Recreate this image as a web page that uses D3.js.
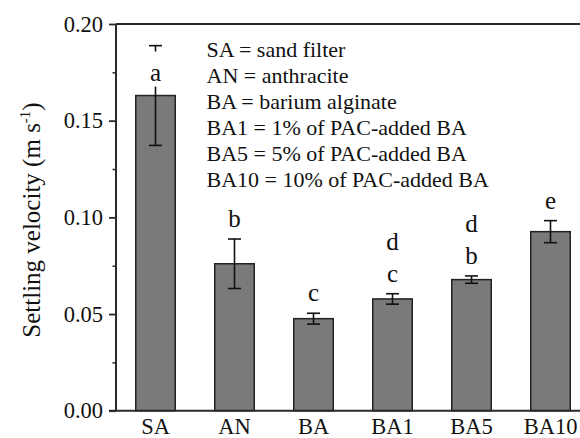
<!DOCTYPE html>
<html><head><meta charset="utf-8">
<script src="https://cdn.jsdelivr.net/npm/d3@7"></script>
<style>body{margin:0;background:#fff}svg{display:block}</style>
</head><body><svg id="c" width="580" height="438"></svg>
<script>
const categories = ["SA","AN","BA","BA1","BA5","BA10"];
const means = [0.163, 0.076, 0.0476, 0.0578, 0.0678, 0.0926];
const errors = [0.0258, 0.0128, 0.0028, 0.0027, 0.0019, 0.0057];
const letters = [["a"],["b"],["c"],["c","d"],["b","d"],["e"]];
const yTicks = [0.00, 0.05, 0.10, 0.15, 0.20];
const yMinorTicks = [0.025, 0.075, 0.125, 0.175];
const legendLines = ["SA = sand filter","AN = anthracite","BA = barium alginate","BA1 = 1% of PAC-added BA","BA5 = 5% of PAC-added BA","BA10 = 10% of PAC-added BA"];
const yTitle = "Settling velocity (m s";

const FONT = '"Liberation Serif"';
const svg = d3.select("#c");
const mL = 116, mR = 590, mT = 24, mB = 410.7;
const x = d3.scaleBand().domain(categories).range([mL, mR]).paddingInner(0.5).paddingOuter(0.25);
const y = d3.scaleLinear().domain([0, 0.20]).range([mB, mT]);
const axisColor = "#2a2a2a";

// bars
svg.append("g").selectAll("rect").data(categories).join("rect")
  .attr("x", d => x(d)).attr("width", x.bandwidth())
  .attr("y", (d,i) => y(means[i])).attr("height", (d,i) => mB - y(means[i]))
  .attr("fill", "#7a7a7a").attr("stroke", "#222").attr("stroke-width", 1.5);

// error bars
const eb = svg.append("g").attr("stroke", "#111").attr("stroke-width", 1.6);
categories.forEach((c,i) => {
  const cx = x(c) + x.bandwidth()/2;
  const y1 = y(means[i] + errors[i]), y2 = y(means[i] - errors[i]);
  eb.append("line").attr("x1", cx).attr("x2", cx).attr("y1", y1).attr("y2", y2);
  eb.append("line").attr("x1", cx-6.5).attr("x2", cx+6.5).attr("y1", y1).attr("y2", y1);
  eb.append("line").attr("x1", cx-6.5).attr("x2", cx+6.5).attr("y1", y2).attr("y2", y2);
});

// significance letters
const lg = svg.append("g");
categories.forEach((c,i) => {
  const cx = x(c) + x.bandwidth()/2;
  const base = i === 0 ? y(means[i]) - 15 : y(means[i] + errors[i]) - 12;
  letters[i].forEach((L,k) => {
    const by = base - k*32;
    lg.append("rect").attr("x", cx-8).attr("y", by-29).attr("width", 16).attr("height", 35).attr("fill", "#fff");
    lg.append("text").attr("x", cx).attr("y", by).attr("text-anchor","middle")
      .style("font-family", FONT).style("font-size", "25px").attr("fill", "#111").text(L);
  });
});

// y axis
const yAxis = svg.append("g").attr("transform", `translate(${mL},0)`)
  .call(d3.axisLeft(y).tickValues(yTicks).tickFormat(d3.format(".2f")).tickSize(7).tickPadding(6));
yAxis.select(".domain").remove();
yAxis.selectAll(".tick line").attr("stroke", axisColor).attr("stroke-width", 1.8);
yAxis.selectAll(".tick text").style("font-family", FONT).style("font-size", "22.5px").attr("fill","#111");
svg.append("g").attr("transform", `translate(${mL},0)`)
  .call(d3.axisLeft(y).tickValues(yMinorTicks).tickFormat("").tickSize(3.5))
  .call(g => g.select(".domain").remove())
  .selectAll(".tick line").attr("stroke", axisColor).attr("stroke-width", 1.5);
svg.append("line").attr("x1", mL).attr("x2", mL).attr("y1", mT).attr("y2", mB)
  .attr("stroke", axisColor).attr("stroke-width", 2);

// top border
svg.append("line").attr("x1", mL).attr("x2", 580).attr("y1", mT).attr("y2", mT)
  .attr("stroke", axisColor).attr("stroke-width", 2);

// x axis
const xAxis = svg.append("g").attr("transform", `translate(0,${mB})`)
  .call(d3.axisBottom(x).tickSize(0).tickPadding(7));
xAxis.select(".domain").remove();
xAxis.selectAll(".tick text").style("font-family", FONT).style("font-size", "22.5px").attr("fill","#111")
  .attr("dy", "0.72em");
svg.append("line").attr("x1", mL-7).attr("x2", 580).attr("y1", mB).attr("y2", mB)
  .attr("stroke", axisColor).attr("stroke-width", 2);

// legend text
svg.append("g").selectAll("text").data(legendLines).join("text")
  .attr("x", 206.5).attr("y", (d,i) => 56.7 + i*26)
  .style("font-family", FONT).style("font-size", "22px").attr("fill", "#111").text(d => d);

// y title
const t = svg.append("text").attr("transform", "translate(40,220) rotate(-90)")
  .attr("text-anchor", "middle").style("font-family", FONT).style("font-size", "25px").attr("fill", "#111");
t.append("tspan").text(yTitle);
t.append("tspan").style("font-size", "15px").attr("dy", -10).text("-1");
t.append("tspan").attr("dy", 10).text(")");
</script></body></html>
